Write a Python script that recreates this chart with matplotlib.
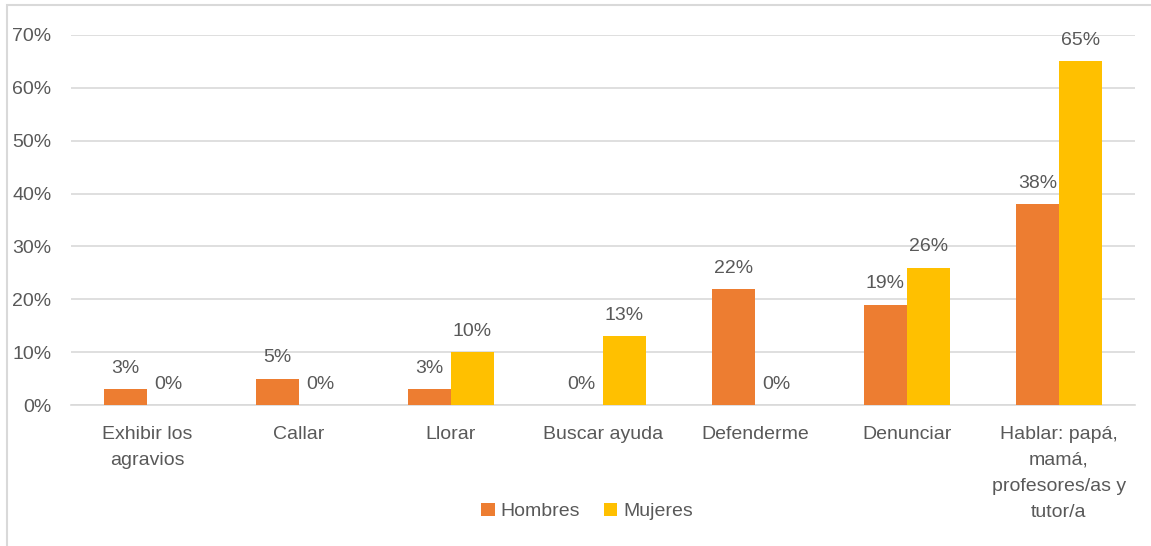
import matplotlib.pyplot as plt
import matplotlib.patches as mpatches
import numpy as np

plt.rcParams['font.family'] = ['Liberation Sans', 'DejaVu Sans']

categories = ['Exhibir los\nagravios', 'Callar', 'Llorar', 'Buscar ayuda', 'Defenderme',
              'Denunciar', 'Hablar: papá,\nmamá,\nprofesores/as y\ntutor/a']
hombres = [3, 5, 3, 0, 22, 19, 38]
mujeres = [0, 0, 10, 13, 0, 26, 65]

txt = '#595959'
fs = 14
fig = plt.figure(figsize=(11.51, 5.46), dpi=100)
ax = fig.add_axes([0.0617, 0.2582, 0.9243, 0.6777])

# chart frame
fig.patches.append(mpatches.Rectangle((7 / 1151, -0.1), 1.2, 1 - 5 / 546 + 0.1,
                                      transform=fig.transFigure, fill=False,
                                      edgecolor='#D9D9D9', linewidth=1.5))

x = np.arange(len(categories))
w = 0.283
b1 = ax.bar(x - w / 2, hombres, w, color='#ED7D31', label='Hombres', zorder=3)
b2 = ax.bar(x + w / 2, mujeres, w, color='#FFC000', label='Mujeres', zorder=3)

for bars, vals in ((b1, hombres), (b2, mujeres)):
    for r, v in zip(bars, vals):
        ax.text(r.get_x() + r.get_width() / 2, v + 2.3, f'{v}%', ha='center', va='bottom',
                fontsize=fs, color=txt)

ax.set_xlim(-0.5, len(categories) - 0.5)
ax.set_ylim(0, 70)
ax.set_yticks(range(0, 71, 10))
ax.set_yticklabels([f'{t}%' for t in range(0, 71, 10)])
ax.set_xticks(x)
ax.set_xticklabels(categories, linespacing=1.7, va='top')
ax.tick_params(length=0, labelsize=fs, labelcolor=txt)
ax.tick_params(axis='y', pad=14)
ax.tick_params(axis='x', pad=15)
ax.yaxis.grid(True, color='#D9D9D9', linewidth=1.2, zorder=0)
for s in ['top', 'right', 'left']:
    ax.spines[s].set_visible(False)
ax.spines['bottom'].set_color('#D9D9D9')
ax.spines['bottom'].set_linewidth(1.2)

fig.legend(handles=[b1, b2], loc='center', bbox_to_anchor=(0.51, 0.063), ncol=2,
           frameon=False, fontsize=fs, labelcolor=txt, handlelength=0.7, handleheight=0.7,
           handletextpad=0.3, columnspacing=1.2)

fig.savefig('out.png', dpi=100)
